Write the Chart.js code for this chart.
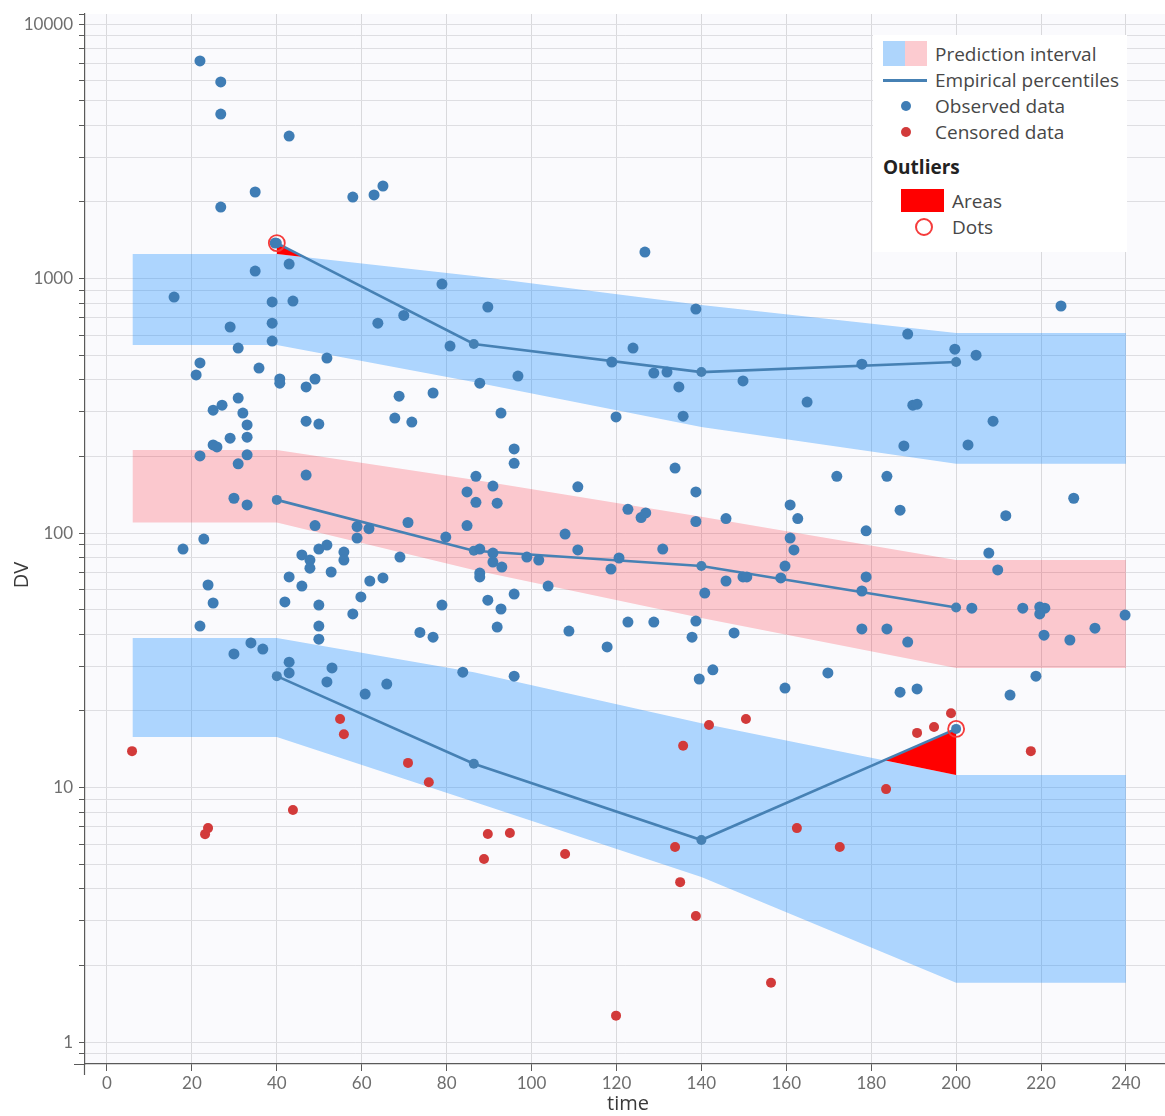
<!DOCTYPE html>
<html>
<head>
<meta charset="utf-8">
<title>VPC – DV vs time</title>
<script src="https://cdn.jsdelivr.net/npm/chart.js@4.4.1/dist/chart.umd.min.js"></script>
<style>
  html, body { margin: 0; padding: 0; background: #ffffff; }
  #wrap { position: relative; width: 1165px; height: 1116px; }
  #chart { position: absolute; left: 0; top: 0; }
  .lg { position: absolute; font-family: "Open Sans", Lato, sans-serif; font-size: 19px; color: #474747; line-height: 26px; white-space: nowrap; }
  .lg.title { font-weight: bold; color: #222; }
  .sw { position: absolute; }
</style>
</head>
<body>
<div id="wrap">
  <canvas id="chart" width="1165" height="1116"></canvas>
  <div id="legend"></div>
</div>
<script>
// ---- observed concentrations ----
const obsTime = [15.8, 17.9, 21.0, 21.9, 21.9, 21.9, 21.9, 22.8, 23.8, 25.0, 25.0, 25.0, 25.9, 26.8, 26.8, 26.8, 27.1, 29.0, 29.0, 29.9,
  29.9, 30.9, 30.9, 30.9, 32.0, 33.0, 33.0, 33.0, 33.0, 33.9, 34.9, 34.9, 35.8, 36.7, 38.9, 38.9, 38.9, 39.6, 40.7, 40.7,
  42.9, 42.9, 42.9, 42.9, 42.9, 41.9, 43.8, 45.9, 45.9, 46.9, 46.9, 46.9, 47.8, 47.8, 49.0, 49.0, 49.9, 49.9, 49.9, 49.9,
  49.9, 51.8, 51.8, 51.8, 53.0, 52.8, 55.8, 55.8, 57.9, 57.9, 58.9, 58.9, 59.8, 60.8, 61.7, 61.9, 62.9, 63.8, 65.0, 65.0,
  65.9, 67.8, 68.8, 69.0, 69.9, 70.9, 71.8, 73.7, 76.8, 76.8, 78.9, 78.9, 79.8, 80.8, 83.8, 84.8, 84.8, 86.9, 86.9, 87.8,
  87.8, 87.8, 87.8, 89.7, 89.7, 90.9, 90.9, 90.9, 91.9, 91.9, 92.8, 92.8, 93.0, 95.9, 95.9, 95.9, 95.9, 96.8, 98.9, 101.7,
  103.9, 107.9, 108.8, 110.9, 110.9, 117.8, 118.7, 118.9, 119.9, 120.6, 122.7, 122.7, 123.9, 125.8, 126.9, 126.7, 128.8, 128.8, 130.9, 131.9,
  133.8, 134.7, 135.7, 137.8, 138.7, 138.7, 138.7, 138.7, 139.5, 140.8, 142.7, 145.8, 145.8, 147.7, 149.8, 149.8, 150.7, 158.7, 159.7, 159.7,
  160.9, 160.9, 161.8, 162.7, 164.9, 169.8, 171.9, 177.8, 177.8, 177.8, 178.8, 178.8, 183.7, 183.7, 186.8, 186.8, 187.7, 188.6, 188.6, 189.8,
  190.8, 190.8, 199.7, 202.8, 203.7, 204.7, 207.7, 208.7, 209.8, 211.7, 212.7, 215.7, 218.8, 219.7, 220.9, 219.7, 220.7, 224.7, 226.8, 227.7,
  232.7, 239.8];
const obsDV = [846, 86.5, 418, 7160, 466, 201, 43.1, 94.7, 62.5, 53.1, 304, 222, 218, 5920, 4430, 1910, 318, 645, 236, 137,
  33.5, 533, 339, 187, 296, 266, 238, 203, 129, 37.0, 1070, 2188, 445, 35.0, 809, 668, 568, 1378, 403, 388,
  3630, 1140, 31.1, 28.2, 67.2, 53.6, 816, 82.0, 61.9, 375, 275, 169, 78.3, 72.8, 403, 107, 268, 86.5, 52.1, 43.1,
  38.3, 487, 89.7, 26.0, 29.5, 70.3, 84.2, 78.3, 48.1, 2090, 106, 95.6, 56.1, 23.3, 104, 64.8, 2130, 668, 2310, 66.6,
  25.5, 283, 345, 80.5, 716, 110, 273, 40.7, 355, 39.0, 951, 52.1, 96.4, 543, 28.4, 145, 107, 167, 132, 86.5,
  388, 69.6, 67.2, 773, 54.5, 153, 83.4, 76.9, 131, 42.7, 296, 50.3, 73.5, 214, 188, 57.6, 27.4, 414, 80.5, 78.3,
  61.9, 99.1, 41.2, 152, 85.8, 35.7, 72.2, 470, 286, 79.8, 124, 44.7, 533, 115, 120, 1271, 425, 44.7, 86.5, 429,
  180, 375, 288, 39.0, 759, 145, 111, 45.1, 26.7, 58.1, 29.0, 114, 64.8, 40.5, 396, 67.2, 67.2, 66.6, 74.2, 24.6,
  129, 95.6, 85.8, 114, 327, 28.2, 167, 461, 59.2, 42.0, 102, 67.2, 167, 42.0, 123, 23.7, 220, 605, 37.3, 318,
  321, 24.4, 528, 222, 50.7, 500, 83.4, 275, 71.6, 117, 23.1, 50.7, 27.4, 51.2, 50.7, 48.1, 39.7, 780, 38.0, 137,
  42.3, 47.6];

// ---- censored (below LOQ) observations ----
const cenTime = [5.9, 23.1, 23.8, 43.8, 54.9, 55.8, 70.9, 75.8, 89.7, 94.9, 88.8, 107.9, 119.9, 133.8, 135.0, 138.7, 135.7, 141.8, 150.5, 156.4,
  162.5, 172.6, 183.5, 190.8, 194.8, 198.8, 217.6];
const cenDV = [13.9, 6.56, 6.93, 8.16, 18.6, 16.2, 12.5, 10.5, 6.57, 6.63, 5.24, 5.48, 1.27, 5.84, 4.25, 3.13, 14.6, 17.6, 18.6, 1.71,
  6.93, 5.84, 9.86, 16.4, 17.3, 19.6, 13.9];

// ---- empirical percentiles per time bin ----
const binTime = [40, 86.4, 140, 200];
const pctHigh = [1378, 553, 429, 470];
const pctMid = [135, 85.2, 74.2, 51];
const pctLow = [27.4, 12.4, 6.22, 17];

// ---- prediction intervals of the simulated percentiles ----
const bandTime = [6, 40, 86.4, 140, 200, 240];
const hiBandTop = [1250, 1250, 1023, 787, 611, 611];
const hiBandBot = [548, 548, 392, 261, 187, 187];
const midBandTop = [212, 212, 162, 116, 78.3, 78.3];
const midBandBot = [110, 110, 71.6, 46.4, 29.5, 29.5];
const loBandTop = [38.7, 38.7, 28.4, 17.9, 11.2, 11.2];
const loBandBot = [15.8, 15.8, 8.8, 4.45, 1.71, 1.71];

// ---- outliers: percentiles outside their prediction interval ----
const areaHighTime = [40, 46.3];
const areaHighOuter = [1378, 1216];
const areaHighInner = [1250, 1216];
const areaLowTime = [183, 200];
const areaLowOuter = [12.8, 17];
const areaLowInner = [12.8, 11.2];
const outlierTime = [40, 200];
const outlierDV = [1378, 17];

// ---- axes ----
const xTicks = [0, 20, 40, 60, 80, 100, 120, 140, 160, 180, 200, 220, 240];
const yTicks = [0.9, 1, 2, 3, 4, 5, 6, 7, 8, 9, 10, 20, 30, 40, 50, 60, 70, 80, 90, 100, 200, 300, 400, 500, 600, 700, 800, 900,
  1000, 2000, 3000, 4000, 5000, 6000, 7000, 8000, 9000, 10000];
const yTickLabels = { 1: '1', 10: '10', 100: '100', 1000: '1000', 10000: '10000' };

const C = {
  obs: '#3f7db5',
  cen: '#d23a3a',
  pct: '#4681b4',
  blueBand: 'rgba(30,144,255,0.35)',
  pinkBand: 'rgba(255,0,20,0.2)',
  outlier: '#ff0000',
  grid: '#dedee2',
  axis: '#5a5a5a',
  tickText: '#6e6e6e',
  bg: '#fafafd'
};

const pts = (xs, ys) => xs.map((x, i) => ({ x: x, y: ys[i] }));

function band(xs, top, bot, color, order) {
  return [
    { data: pts(xs, top), showLine: true, pointRadius: 0, borderWidth: 0, borderColor: 'transparent', fill: false, order: order },
    { data: pts(xs, bot), showLine: true, pointRadius: 0, borderWidth: 0, borderColor: 'transparent', backgroundColor: color, fill: '-1', order: order }
  ];
}
function pctLine(ys) {
  return { data: pts(binTime, ys), showLine: true, borderColor: C.pct, borderWidth: 2.6, pointRadius: 5,
    pointBackgroundColor: C.pct, pointBorderWidth: 0, fill: false, order: 3 };
}

const datasets = [
  ...band(bandTime, hiBandTop, hiBandBot, C.blueBand, 10),
  ...band(bandTime, midBandTop, midBandBot, C.pinkBand, 10),
  ...band(bandTime, loBandTop, loBandBot, C.blueBand, 10),
  ...band(areaHighTime, areaHighOuter, areaHighInner, C.outlier, 8),
  ...band(areaLowTime, areaLowOuter, areaLowInner, C.outlier, 8),
  pctLine(pctHigh), pctLine(pctMid), pctLine(pctLow),
  { data: pts(cenTime, cenDV), pointRadius: 5, pointBackgroundColor: C.cen, pointBorderWidth: 0, order: 2 },
  { data: pts(obsTime, obsDV), pointRadius: 5.5, pointBackgroundColor: C.obs, pointBorderWidth: 0, order: 1 },
  { data: pts(outlierTime, outlierDV), pointRadius: 8, pointBackgroundColor: 'rgba(0,0,0,0)', pointBorderColor: '#f53b3b',
    pointBorderWidth: 1.8, order: 0 }
];

const plotBackground = {
  id: 'plotBackground',
  beforeDraw(chart) {
    const a = chart.chartArea, g = chart.ctx;
    g.save();
    g.fillStyle = C.bg;
    g.fillRect(a.left, a.top, a.right - a.left, a.bottom - a.top);
    g.restore();
  }
};

const axisTitles = {
  id: 'axisTitles',
  afterDraw(chart) {
    const g = chart.ctx, a = chart.chartArea;
    g.save();
    // axis lines run a little past the corner
    g.strokeStyle = C.axis;
    g.lineWidth = 1.2;
    g.beginPath();
    g.moveTo(a.left - 11, a.bottom + 0.5); g.lineTo(a.left, a.bottom + 0.5);
    g.moveTo(a.left - 0.5, a.bottom); g.lineTo(a.left - 0.5, a.bottom + 11);
    g.moveTo(a.left - 6, a.top + 0.5); g.lineTo(a.left, a.top + 0.5);
    g.stroke();
    g.fillStyle = '#3a3a3a';
    g.font = '20px "Open Sans", Lato, sans-serif';
    g.textAlign = 'center';
    g.textBaseline = 'middle';
    g.fillText('time', 628, 1104);
    g.translate(22, 575);
    g.rotate(-Math.PI / 2);
    g.fillText('DV', 0, 0);
    g.restore();
  }
};

Chart.defaults.font.family = 'Lato, "Open Sans", sans-serif';

new Chart(document.getElementById('chart'), {
  type: 'scatter',
  data: { datasets: datasets },
  options: {
    responsive: false,
    animation: false,
    events: [],
    layout: { autoPadding: false, padding: { top: 14, right: 0, left: 0, bottom: 0 } },
    plugins: { legend: { display: false }, tooltip: { enabled: false } },
    scales: {
      x: {
        type: 'linear', min: -5.18, max: 249.2,
        afterBuildTicks: s => { s.ticks = xTicks.map(v => ({ value: v })); },
        afterFit: s => { s.height = 52; s.paddingLeft = 0; s.paddingRight = 0; },
        grid: { color: '#d9d9dc', lineWidth: 1, tickLength: 7, tickColor: C.axis },
        border: { color: C.axis, width: 1.2 },
        ticks: { color: C.tickText, font: { size: 17 }, padding: 2, autoSkip: false, maxRotation: 0 }
      },
      y: {
        type: 'logarithmic', min: 0.82, max: 10950,
        afterBuildTicks: s => { s.ticks = yTicks.map(v => ({ value: v })); },
        afterFit: s => { s.width = 85; s.paddingTop = 0; s.paddingBottom = 0; },
        grid: { color: C.grid, lineWidth: 1, tickLength: 6, tickColor: C.axis },
        border: { color: C.axis, width: 1.2 },
        ticks: { color: C.tickText, font: { size: 17 }, padding: 6, autoSkip: false,
          callback: v => (yTickLabels[v] !== undefined ? yTickLabels[v] : '') }
      }
    }
  },
  plugins: [plotBackground, axisTitles]
});

// ---- legend ----
const legend = document.getElementById('legend');
function add(html) { legend.insertAdjacentHTML('beforeend', html); }
add('<div class="sw" style="left:873px;top:35px;width:254px;height:217px;background:#ffffff"></div>');
add('<div class="sw" style="left:883px;top:41px;width:22px;height:25px;background:#aed5fc"></div>');
add('<div class="sw" style="left:905px;top:41px;width:22px;height:25px;background:#fccbd0"></div>');
add('<div class="sw" style="left:883px;top:79px;width:44px;height:3px;background:' + C.pct + '"></div>');
add('<div class="sw" style="left:901px;top:101px;width:10px;height:10px;border-radius:50%;background:' + C.obs + '"></div>');
add('<div class="sw" style="left:901px;top:127px;width:10px;height:10px;border-radius:50%;background:' + C.cen + '"></div>');
add('<div class="sw" style="left:901px;top:189px;width:43px;height:23px;background:' + C.outlier + '"></div>');
add('<div class="sw" style="left:915px;top:218px;width:14px;height:14px;border-radius:50%;border:2px solid #f53b3b"></div>');
const legendText = [
  ['Prediction interval', 935, 54, false],
  ['Empirical percentiles', 935, 80, false],
  ['Observed data', 935, 106, false],
  ['Censored data', 935, 132, false],
  ['Outliers', 883, 167, true],
  ['Areas', 952, 201, false],
  ['Dots', 952, 227, false]
];
legendText.forEach(([t, x, y, bold]) => {
  add('<div class="lg' + (bold ? ' title' : '') + '" style="left:' + x + 'px;top:' + (y - 13) + 'px">' + t + '</div>');
});
</script>
</body>
</html>
